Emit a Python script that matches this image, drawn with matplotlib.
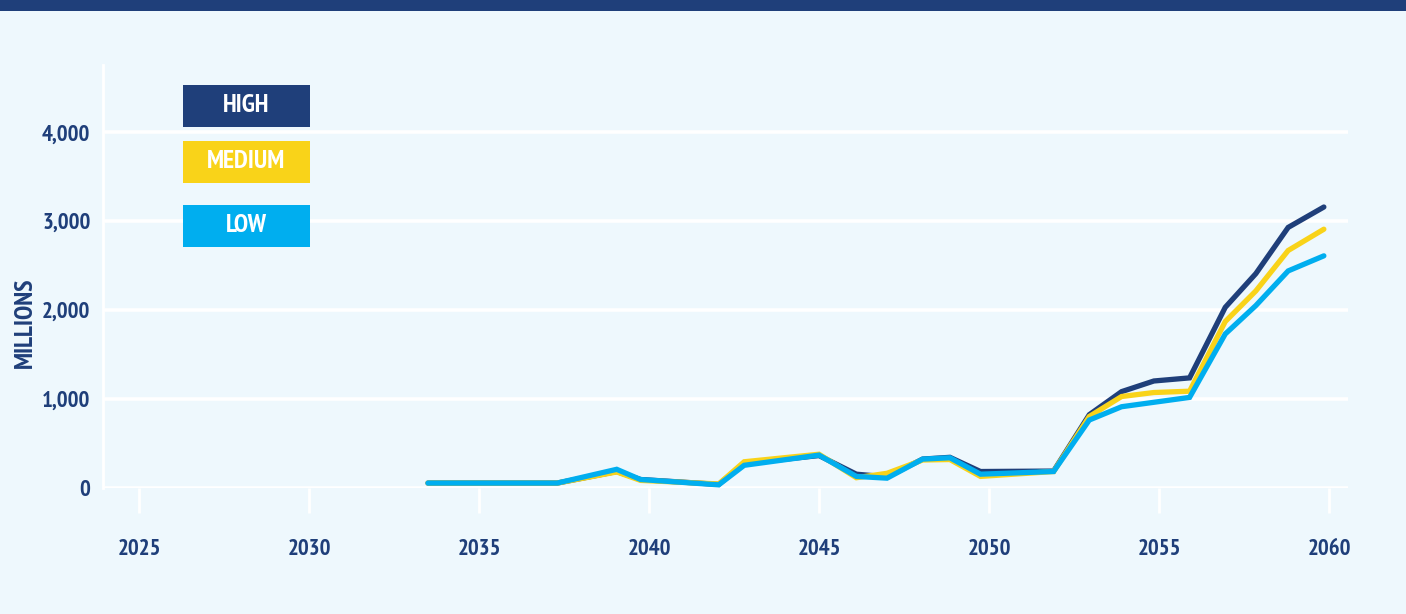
import matplotlib
matplotlib.use('Agg')
import matplotlib.pyplot as plt
from matplotlib.patches import Rectangle
from matplotlib.ticker import FuncFormatter

# Data (millions)
YEARS = [2033.5, 2037.3, 2039.05, 2039.75, 2042.05, 2042.8, 2045.0, 2046.1, 2047.0,
         2048.05, 2048.85, 2049.75, 2051.9, 2052.95, 2053.9, 2054.85, 2055.9,
         2056.95, 2057.85, 2058.8, 2059.85]
HIGH = [50, 50, 180, 90, 35, 270, 360, 150, 120, 320, 340, 180, 185, 820, 1080,
        1200, 1235, 2030, 2410, 2930, 3160]
MEDIUM = [50, 50, 175, 80, 40, 290, 375, 110, 160, 310, 315, 125, 180, 800, 1025,
          1070, 1085, 1870, 2215, 2670, 2910]
LOW = [50, 50, 205, 90, 30, 250, 365, 125, 105, 320, 335, 150, 180, 760, 910,
       960, 1015, 1730, 2050, 2440, 2610]

X_TICKS = [2025, 2030, 2035, 2040, 2045, 2050, 2055, 2060]
Y_TICKS = [0, 1000, 2000, 3000, 4000]
SERIES_NAMES = ['HIGH', 'MEDIUM', 'LOW']

NAVY = '#1f3f7a'
YELLOW = '#f9d319'
CYAN = '#00aeef'
BG = '#eef8fd'
FONT = ['PT Sans Narrow', 'Roboto Condensed', 'DejaVu Sans']

plt.rcParams['font.family'] = FONT

fig = plt.figure(figsize=(14.06, 6.14), dpi=100)
fig.patch.set_facecolor(BG)
ax = fig.add_axes([103 / 1406, 1 - 487.5 / 614, 1245 / 1406, 422.5 / 614])
ax.set_facecolor(BG)

# top banner
fig.add_artist(Rectangle((0, 1 - 11 / 614), 1, 11 / 614, transform=fig.transFigure,
                         facecolor=NAVY, edgecolor='none'))

for vals, col in [(HIGH, NAVY), (MEDIUM, YELLOW), (LOW, CYAN)]:
    ax.plot(YEARS, vals, color=col, lw=3.8, solid_capstyle='round',
            solid_joinstyle='miter', zorder=3)

ax.set_xlim(2023.94, 2060.56)
ax.set_ylim(0, 4760)
ax.set_xticks(X_TICKS)
ax.set_yticks(Y_TICKS)
ax.yaxis.set_major_formatter(FuncFormatter(lambda v, p: f'{int(v):,}'))

ax.grid(axis='y', color='white', lw=2.6, zorder=1)
for s in ['top', 'right', 'bottom']:
    ax.spines[s].set_visible(False)
ax.spines['left'].set_color('white')
ax.spines['left'].set_linewidth(2)

ax.tick_params(axis='x', direction='out', length=18, width=2, color='white', pad=19,
               labelsize=16.5, labelcolor=NAVY)
ax.tick_params(axis='y', length=0, pad=9, labelsize=16.5, labelcolor=NAVY)
for lbl in ax.get_xticklabels() + ax.get_yticklabels():
    lbl.set_fontweight('bold')

ax.set_ylabel('MILLIONS', fontsize=18.5, fontweight='bold', color=NAVY)
ax.yaxis.set_label_coords(-0.053, 0.39)

# legend boxes
box_tops = [85, 141, 205]
for name, col, top in zip(SERIES_NAMES, [NAVY, YELLOW, CYAN], box_tops):
    fig.add_artist(Rectangle((183 / 1406, 1 - (top + 42) / 614), 127 / 1406, 42 / 614,
                             transform=fig.transFigure, facecolor=col, edgecolor='none'))
    fig.text((183 + 63.5) / 1406, 1 - (top + 21) / 614, name, ha='center', va='center',
             color='white', fontsize=18.5, fontweight='bold')

fig.savefig('out.png', dpi=100, facecolor=BG)
